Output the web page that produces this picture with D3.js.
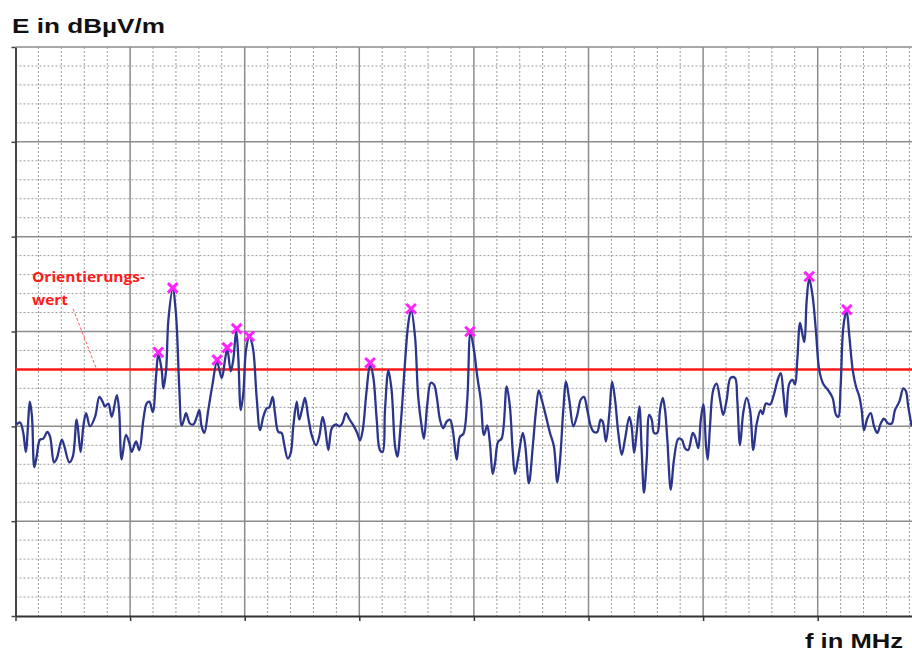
<!DOCTYPE html>
<html>
<head>
<meta charset="utf-8">
<script src="https://cdn.jsdelivr.net/npm/d3@7"></script>
<style>
  html, body { margin: 0; padding: 0; background: #ffffff; }
  svg { display: block; }
</style>
</head>
<body>
<svg id="chart" width="912" height="654"></svg>
<script>
// ---------------- data ----------------
const yTitle = "E in dBµV/m";
const xTitle = "f in MHz";
const refLabel = ["Orientierungs-", "wert"];
const refLevel = 26;                       // Orientierungswert
const xMajorTicks = [0, 5, 10, 15, 20, 25, 30, 35, 40];
const yMajorTicks = [0, 10, 20, 30, 40, 50, 60];
const leaderFreq = [2.51, 3.51];
const leaderLevel = [32.4, 26.2];

const freq = [
  0.05,0.20,0.34,0.45,0.63,0.72,0.82,0.92,1.07,1.21,
  1.39,1.51,1.68,1.80,2.02,2.13,2.35,2.50,2.67,2.84,
  2.96,3.08,3.25,3.47,3.66,3.80,3.90,4.05,4.20,4.42,
  4.52,4.63,4.82,4.97,5.07,5.26,5.40,5.58,5.72,5.84,
  5.99,6.13,6.23,6.38,6.45,6.57,6.67,6.86,7.00,7.15,
  7.25,7.35,7.44,7.61,7.76,7.91,8.02,8.12,8.24,8.41,
  8.60,8.79,9.00,9.14,9.24,9.39,9.50,9.63,9.72,9.83,
  9.94,10.06,10.20,10.35,10.52,10.67,10.81,10.96,11.07,11.22,
  11.32,11.47,11.61,11.73,11.88,12.01,12.12,12.27,12.38,12.53,
  12.63,12.77,12.92,13.11,13.25,13.40,13.50,13.65,13.80,13.98,
  14.13,14.26,14.42,14.56,14.74,14.91,15.03,15.15,15.32,15.47,
  15.61,15.76,15.90,16.02,16.12,16.27,16.41,16.56,16.66,16.81,
  16.99,17.14,17.26,17.43,17.57,17.72,17.82,17.97,18.12,18.26,
  18.38,18.52,18.66,18.81,18.96,19.08,19.25,19.39,19.54,19.71,
  19.85,20.00,20.15,20.30,20.44,20.58,20.70,20.82,20.92,21.06,
  21.21,21.43,21.57,21.69,21.79,21.94,22.13,22.23,22.40,22.57,
  22.71,22.83,22.96,23.15,23.32,23.49,23.64,23.76,23.90,24.02,
  24.16,24.34,24.51,24.66,24.80,24.95,25.10,25.24,25.38,25.53,
  25.62,25.76,25.91,26.03,26.16,26.30,26.45,26.59,26.78,26.88,
  26.99,27.10,27.22,27.32,27.42,27.54,27.65,27.76,27.86,28.00,
  28.12,28.24,28.34,28.44,28.59,28.73,28.92,29.07,29.21,29.35,
  29.55,29.65,29.79,29.90,30.01,30.13,30.20,30.30,30.44,30.59,
  30.74,30.88,31.03,31.20,31.39,31.49,31.61,31.75,31.90,32.05,
  32.19,32.34,32.51,32.60,32.74,32.92,33.06,33.28,33.39,33.50,
  33.62,33.76,33.91,34.01,34.11,34.23,34.35,34.42,34.52,34.63,
  34.78,34.93,35.07,35.24,35.46,35.65,35.80,35.90,36.00,36.12,
  36.26,36.38,36.53,36.67,36.82,36.92,37.02,37.16,37.31,37.46,
  37.60,37.75,37.89,38.08,38.23,38.37,38.56,38.74,38.85,38.95,39.10
];
const level = [
  20.2,20.4,19.3,17.3,22.6,21.0,15.7,16.8,18.6,18.7,
  19.4,18.9,16.2,16.6,18.6,17.9,16.2,16.8,20.7,17.3,
  20.0,21.4,20.0,21.0,23.1,22.6,22.1,22.4,21.0,23.3,
  21.7,16.5,19.1,18.2,17.3,18.4,17.5,20.7,22.4,22.6,
  21.5,25.2,27.6,25.9,24.0,25.9,31.2,34.5,31.9,23.8,
  20.1,20.7,21.4,20.3,20.2,21.0,21.7,20.0,19.3,21.7,
  24.5,26.8,25.1,27.0,28.2,25.8,27.0,30.1,27.3,21.7,
  23.5,28.1,29.4,28.4,23.1,19.6,21.0,21.9,22.0,23.1,
  21.4,19.4,19.3,18.0,16.6,17.2,20.0,22.6,20.7,22.1,
  23.0,21.0,19.1,18.0,18.9,21.0,20.0,17.5,19.8,20.2,
  20.0,20.3,21.4,20.8,20.1,19.3,18.5,19.6,23.8,26.5,
  25.2,20.7,17.5,17.3,21.7,25.9,23.8,17.9,16.8,20.3,
  26.6,30.9,32.3,29.5,23.1,20.0,18.7,22.4,24.6,24.4,
  23.1,20.7,19.8,20.5,20.7,19.6,16.5,18.9,19.2,22.8,
  29.8,28.1,25.2,22.8,19.1,20.1,18.2,15.0,16.1,18.4,
  18.7,24.2,22.1,17.5,15.0,16.8,19.3,18.2,14.0,17.9,
  21.7,23.8,22.8,21.0,19.3,17.9,14.1,16.5,21.7,24.7,
  22.8,20.0,21.2,22.8,23.1,21.7,20.0,19.4,19.4,20.7,
  20.5,18.4,21.4,24.7,22.8,19.3,17.0,18.6,21.0,20.0,
  17.2,19.3,22.1,17.5,13.0,16.5,21.2,20.7,19.3,19.3,
  21.7,23.0,21.7,18.6,13.3,16.5,18.7,18.6,17.7,17.5,
  19.3,18.9,17.7,20.7,22.3,17.9,16.5,20.0,23.8,24.5,
  22.8,21.2,22.8,25.1,25.1,22.8,18.0,21.4,23.0,21.7,
  17.5,20.3,21.7,21.3,22.4,22.3,23.1,25.1,25.6,23.5,
  21.0,24.5,24.9,24.4,27.0,30.9,29.5,28.9,33.3,35.6,
  33.7,29.8,25.9,24.5,23.8,23.0,21.2,21.0,24.2,30.5,
  32.2,29.5,25.9,24.2,23.1,21.7,19.6,20.8,21.4,20.0,
  19.3,20.3,20.8,20.3,20.3,21.7,22.6,24.0,23.7,22.1,20.0
];
const peakFreq  = [6.23, 6.86, 8.80, 9.24, 9.65, 10.20, 15.47, 17.26, 19.83, 34.63, 36.27];
const peakLevel = [27.8, 34.6, 27.0, 28.3, 30.3, 29.5, 26.7, 32.4, 30.0, 35.8, 32.3];

// ---------------- drawing ----------------
const svg = d3.select("#chart");
const x = d3.scaleLinear().domain([0, 40]).range([15.5, 15.5 + 40 * 22.92]);
const y = d3.scaleLinear().domain([0, 60]).range([616, 47]);

const xMinor = d3.range(1, 40).filter(v => v % 5 !== 0);
const yMinor = d3.range(2, 60, 2).filter(v => v % 10 !== 0);

const grid = svg.append("g");
grid.selectAll(".vmin").data(xMinor).join("line")
  .attr("x1", d => x(d)).attr("x2", d => x(d))
  .attr("y1", y(60)).attr("y2", y(0))
  .attr("stroke", "#9a9a9a").attr("stroke-width", 1).attr("stroke-dasharray", "2,2");
grid.selectAll(".hmin").data(yMinor).join("line")
  .attr("x1", x(0)).attr("x2", x(40))
  .attr("y1", d => y(d)).attr("y2", d => y(d))
  .attr("stroke", "#9a9a9a").attr("stroke-width", 1).attr("stroke-dasharray", "2,2");
grid.selectAll(".vmaj").data(xMajorTicks.slice(1)).join("line")
  .attr("x1", d => x(d)).attr("x2", d => x(d))
  .attr("y1", y(60)).attr("y2", y(0))
  .attr("stroke", "#8c8c8c").attr("stroke-width", 1.5);
grid.selectAll(".hmaj").data(yMajorTicks.slice(1)).join("line")
  .attr("x1", x(0)).attr("x2", x(40))
  .attr("y1", d => y(d)).attr("y2", d => y(d))
  .attr("stroke", "#8c8c8c").attr("stroke-width", 1.5);

const xAxis = svg.append("g").attr("transform", `translate(0,${y(0)})`)
  .call(d3.axisBottom(x).tickValues(xMajorTicks).tickSize(5).tickSizeOuter(0).tickFormat(""));
const yAxis = svg.append("g").attr("transform", `translate(${x(0)},0)`)
  .call(d3.axisLeft(y).tickValues(yMajorTicks).tickSize(4).tickSizeOuter(0).tickFormat(""));
xAxis.select(".domain").attr("stroke", "#333").attr("stroke-width", 2);
xAxis.selectAll(".tick line").attr("stroke", "#333").attr("stroke-width", 1.5);
yAxis.select(".domain").attr("stroke", "#444").attr("stroke-width", 2);
yAxis.selectAll(".tick line").attr("stroke", "#444").attr("stroke-width", 1.5);

svg.append("line")
  .attr("x1", x(0)).attr("x2", x(40))
  .attr("y1", y(refLevel)).attr("y2", y(refLevel))
  .attr("stroke", "#ff1a1a").attr("stroke-width", 2.4);

svg.append("line")
  .attr("x1", x(leaderFreq[0])).attr("y1", y(leaderLevel[0]))
  .attr("x2", x(leaderFreq[1])).attr("y2", y(leaderLevel[1]))
  .attr("stroke", "#ff5a5a").attr("stroke-width", 1).attr("stroke-dasharray", "3,2");

const pts = freq.map((f, i) => [f, level[i]]);
svg.append("path")
  .datum(pts)
  .attr("d", d3.line().x(d => x(d[0])).y(d => y(d[1])).curve(d3.curveCatmullRom.alpha(0.5)))
  .attr("fill", "none").attr("stroke", "#2b358c").attr("stroke-width", 2.3)
  .attr("stroke-linejoin", "round");

const peaks = peakFreq.map((f, i) => [f, peakLevel[i]]);
svg.append("g").selectAll("path").data(peaks).join("path")
  .attr("d", d => {
    const cx = x(d[0]), cy = y(d[1]), r = 4.8;
    return `M${cx - r},${cy - r}L${cx + r},${cy + r}M${cx - r},${cy + r}L${cx + r},${cy - r}`;
  })
  .attr("stroke", "#ff22ff").attr("stroke-width", 3).attr("fill", "none");

svg.append("text").text(yTitle)
  .attr("x", 12).attr("y", 33)
  .attr("font-family", "Liberation Sans, Arial, sans-serif").attr("font-weight", "bold")
  .attr("font-size", 21).attr("fill", "#111")
  .attr("textLength", 153).attr("lengthAdjust", "spacingAndGlyphs");

svg.append("text").text(xTitle)
  .attr("x", 805).attr("y", 648)
  .attr("font-family", "Liberation Sans, Arial, sans-serif").attr("font-weight", "bold")
  .attr("font-size", 21).attr("fill", "#111")
  .attr("textLength", 98).attr("lengthAdjust", "spacingAndGlyphs");

svg.append("text").text(refLabel[0])
  .attr("x", 32).attr("y", 282)
  .attr("font-family", "Open Sans, Liberation Sans, sans-serif").attr("font-weight", "bold")
  .attr("font-size", 15).attr("fill", "#ff1a1a")
  .attr("textLength", 113).attr("lengthAdjust", "spacingAndGlyphs");
svg.append("text").text(refLabel[1])
  .attr("x", 32).attr("y", 305)
  .attr("font-family", "Open Sans, Liberation Sans, sans-serif").attr("font-weight", "bold")
  .attr("font-size", 15).attr("fill", "#ff1a1a")
  .attr("textLength", 36).attr("lengthAdjust", "spacingAndGlyphs");
</script>
</body>
</html>
